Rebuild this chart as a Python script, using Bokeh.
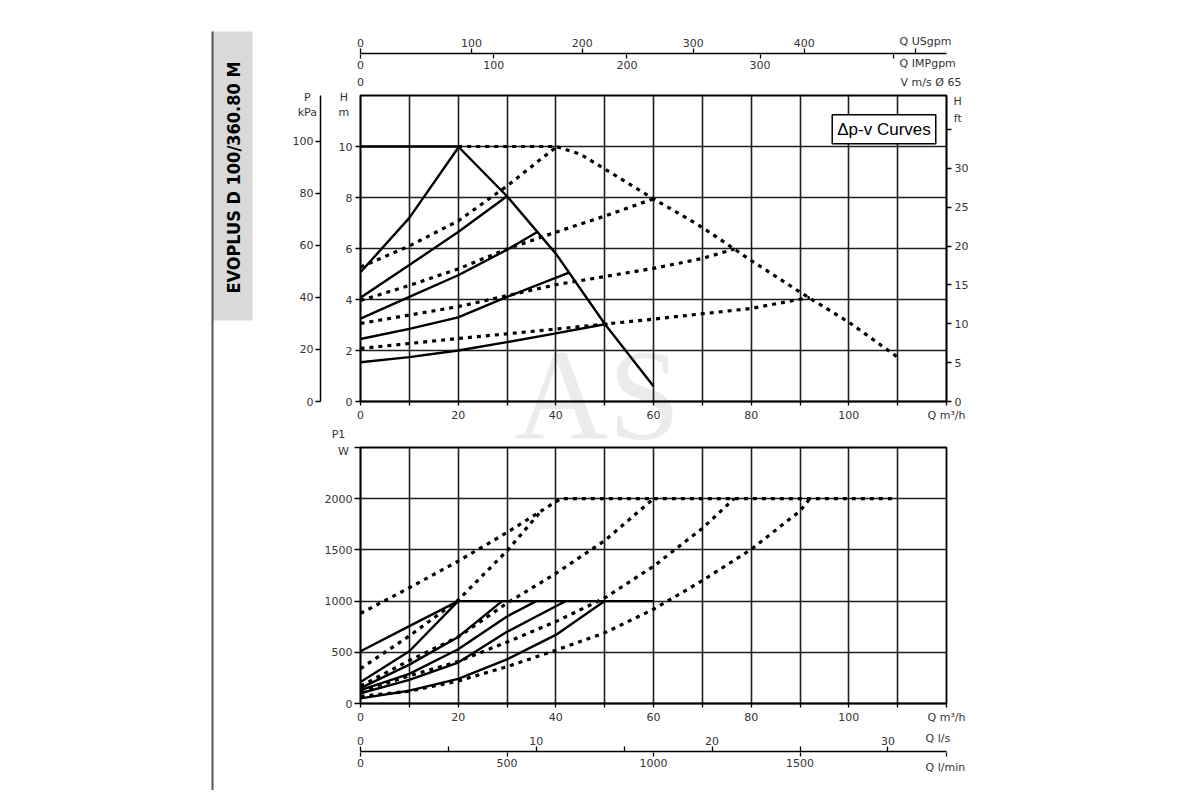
from math import pi

from bokeh.plotting import figure
from bokeh.models import Range1d, LinearAxis, FixedTicker, Grid, Label, BoxAnnotation
from bokeh.layouts import row, column
from bokeh.embed import file_html
from bokeh.resources import INLINE

# UNIT CONVERSIONS (from m3/h and m)
USGPM_PER_M3H = 4.402868
IMPGPM_PER_M3H = 3.666154
LS_PER_M3H = 1 / 3.6
LMIN_PER_M3H = 1000 / 60
KPA_PER_M = 9.80665
FT_PER_M = 3.28084

Q_MAX = 120
H_MAX = 12
P1_MAX = 2500

# TICKS
q_ticks = [0, 20, 40, 60, 80, 100, 120]
q_minor = [10, 30, 50, 70, 90, 110]
q_grid = [0, 10, 20, 30, 40, 50, 60, 70, 80, 90, 100, 110, 120]
h_ticks = [0, 2, 4, 6, 8, 10]
h_grid = [0, 2, 4, 6, 8, 10, 12]
kpa_ticks = [0, 20, 40, 60, 80, 100]
ft_ticks = [0, 5, 10, 15, 20, 25, 30, 35]
usgpm_ticks = [0, 100, 200, 300, 400, 500]
impgpm_ticks = [0, 100, 200, 300, 400]
p1_ticks = [0, 500, 1000, 1500, 2000, 2500]
ls_ticks = [0, 10, 20, 30]
ls_minor = [5, 15, 25]
lmin_ticks = [0, 500, 1000, 1500, 2000]

# HEAD CURVES  H [m] vs Q [m3/h]
head_solid_q = [
    [0, 20, 30, 40, 50, 60],
    [0, 10, 20],
    [0, 10, 20, 30],
    [0, 10, 20, 30, 36.2],
    [0, 10, 20, 30, 42.7],
    [0, 10, 20, 30, 40, 50.6],
]
head_solid_h = [
    [10, 10, 8.05, 5.8, 3.05, 0.6],
    [5.07, 7.2, 9.95],
    [4.07, 5.35, 6.65, 8.05],
    [3.25, 4.1, 4.95, 5.95, 6.65],
    [2.45, 2.85, 3.3, 4.1, 5.05],
    [1.54, 1.74, 2.0, 2.33, 2.67, 3.05],
]
head_dot_q = [
    [20, 40, 45, 50, 60, 70, 80, 90, 100, 110],
    [0, 10, 20, 30, 40],
    [0, 10, 20, 30, 40, 50, 60],
    [0, 20, 40, 60, 70, 76.6],
    [0, 20, 40, 60, 80, 92],
]
head_dot_h = [
    [10, 10, 9.7, 9.12, 7.95, 6.83, 5.53, 4.29, 3.11, 1.74],
    [5.27, 6.1, 7.08, 8.45, 9.97],
    [3.96, 4.55, 5.2, 5.98, 6.64, 7.27, 7.95],
    [3.06, 3.72, 4.58, 5.22, 5.61, 5.98],
    [2.08, 2.47, 2.84, 3.23, 3.65, 4.08],
]

# POWER CURVES  P1 [W] vs Q [m3/h]
power_solid_q = [
    [20, 60],
    [0, 10, 20],
    [0, 10, 20],
    [0, 10, 20, 29],
    [0, 10, 20, 30, 36],
    [0, 10, 20, 30, 40, 42],
    [0, 10, 20, 30, 40, 50],
]
power_solid_p = [
    [1000, 1000],
    [510, 755, 1000],
    [210, 510, 1000],
    [150, 380, 650, 1000],
    [130, 290, 530, 850, 1000],
    [100, 230, 400, 700, 950, 1000],
    [50, 125, 240, 430, 670, 1000],
]
power_dot_q = [
    [0, 10, 20, 30, 41, 110],
    [0, 10, 20, 30, 37],
    [0, 10, 20, 30, 40, 50, 60],
    [0, 10, 20, 30, 40, 50, 60, 70, 76.5],
    [0, 10, 20, 30, 40, 50, 60, 70, 80, 90, 92],
]
power_dot_p = [
    [880, 1130, 1390, 1670, 2000, 2000],
    [340, 660, 1010, 1490, 1880],
    [170, 420, 650, 980, 1270, 1590, 2000],
    [120, 270, 410, 600, 800, 1030, 1340, 1710, 2000],
    [70, 120, 220, 360, 520, 690, 920, 1200, 1505, 1880, 2000],
]

TICK_FONT = "DejaVu Sans"
TEXT_COLOR = "#333333"


def make_fig(frame_h, border_top, border_bottom, y_max):
    p = figure(frame_width=586, frame_height=frame_h,
               min_border_left=92, min_border_right=242,
               min_border_top=border_top, min_border_bottom=border_bottom,
               x_range=Range1d(0, Q_MAX), y_range=Range1d(0, y_max),
               x_axis_location=None, y_axis_location=None,
               toolbar_location=None, title=None, output_backend="svg")
    p.center = []
    return p


def add_axis(p, side, ticks, minor=(), range_name=None, hide=(), names=None,
             tick_out=5, standoff=2, line=True, tick_line=True):
    kw = {}
    if range_name:
        if side in ("above", "below"):
            kw["x_range_name"] = range_name
        else:
            kw["y_range_name"] = range_name
    ax = LinearAxis(ticker=FixedTicker(ticks=list(ticks), minor_ticks=list(minor)), **kw)
    overrides = {t: "" for t in hide}
    overrides.update(names or {})
    ax.major_label_overrides = overrides
    ax.major_tick_in = 0
    ax.major_tick_out = tick_out
    ax.minor_tick_in = 0
    ax.minor_tick_out = tick_out
    ax.major_label_standoff = standoff
    ax.major_label_text_font = TICK_FONT
    ax.major_label_text_font_size = "11px"
    ax.major_label_text_color = TEXT_COLOR
    ax.axis_line_color = "black" if line else None
    ax.axis_line_width = 1.5
    ax.major_tick_line_color = "black" if tick_line else None
    ax.minor_tick_line_color = "black" if tick_line else None
    ax.major_tick_line_width = 1.3
    ax.minor_tick_line_width = 1.3
    p.add_layout(ax, side)
    return ax


# labels go into a side panel so they are not clipped to the plot frame
def add_text(p, side, x, y, s, align="left", size="11px", font=TICK_FONT, color=TEXT_COLOR, **kw):
    lab = Label(x=x, y=y, text=s, text_align=align, text_baseline="middle",
                text_font=font, text_font_size=size, text_color=color, **kw)
    p.add_layout(lab, side)
    return lab


def add_grid(p, xs, ys):
    for dim, ticks in ((0, xs), (1, ys)):
        p.add_layout(Grid(dimension=dim, ticker=FixedTicker(ticks=ticks),
                          grid_line_color="#1e1e1e", grid_line_width=1.6))


# TOP STRIP: USgpm / IMPgpm / velocity scales
strip_top = make_fig(1, 53, 36, 1)
strip_top.outline_line_color = None
strip_top.extra_x_ranges = {
    "usgpm": Range1d(0, Q_MAX * USGPM_PER_M3H),
    "impgpm": Range1d(0, Q_MAX * IMPGPM_PER_M3H),
    "vel": Range1d(0, 10),
}
add_axis(strip_top, "above", usgpm_ticks, range_name="usgpm", hide=[500])
add_axis(strip_top, "below", impgpm_ticks, range_name="impgpm", hide=[400], tick_out=4, line=False)
add_axis(strip_top, "below", [0], range_name="vel", tick_out=0, standoff=6, line=False, tick_line=False)
add_text(strip_top, "right", 110.4, 13, "Q USgpm")
add_text(strip_top, "right", 110.4, -9, "Q IMPgpm")
add_text(strip_top, "right", 110.6, -28, "V m/s Ø 65")

# HEAD CHART
top = make_fig(306, 5, 44, H_MAX)
top.outline_line_color = "black"
top.outline_line_width = 1.8
top.extra_y_ranges = {"kpa": Range1d(0, H_MAX * KPA_PER_M), "ft": Range1d(0, H_MAX * FT_PER_M)}
add_grid(top, q_grid, h_grid)

add_axis(top, "left", h_ticks, standoff=3)
add_text(top, "left", -3.4, 11.92, "H", align="center")
add_text(top, "left", -10.9, 11.92, "P", align="center")
add_axis(top, "left", kpa_ticks, range_name="kpa")
add_text(top, "left", 122.3, 11.76, "H", align="center")
add_text(top, "left", -3.4, 11.33, "m", align="center")

add_axis(top, "right", ft_ticks, range_name="ft", hide=[35], standoff=3)
add_text(top, "right", -10.9, 11.33, "kPa", align="center")
add_text(top, "right", 122.3, 11.1, "ft", align="center")
add_text(top, "right", 48.5, 0.24, "AS", align="center", size="130px",
         font="Liberation Serif", color="black", text_alpha=0.08)

add_axis(top, "below", q_ticks, minor=q_minor, names={120: "Q m³/h"}, tick_out=4, standoff=3)
add_text(top, "below", -4.5, -1.29, "P1", align="center")

top.multi_line(xs=head_solid_q, ys=head_solid_h, line_color="black", line_width=2.4)
top.multi_line(xs=head_dot_q, ys=head_dot_h, line_color="black", line_width=3.2, line_dash="4 5")

top.add_layout(Label(x=107.2, y=10.68, text="Δp-v Curves", text_align="center",
                     text_baseline="middle", text_font="Liberation Sans", text_font_size="17px",
                     text_color="black", background_fill_color="white",
                     border_line_color="black", border_line_width=1.5, padding=5))

# POWER CHART
bottom = make_fig(256, 2, 20, P1_MAX)
bottom.outline_line_color = "black"
bottom.outline_line_width = 1.8
add_grid(bottom, q_grid, p1_ticks)
add_axis(bottom, "left", p1_ticks, hide=[2500], tick_out=6, standoff=2)
add_axis(bottom, "below", q_ticks, minor=q_minor, names={120: "Q m³/h"}, tick_out=4, standoff=3)
add_text(bottom, "right", -3.5, 2461, "W", align="center")

bottom.multi_line(xs=power_solid_q, ys=power_solid_p, line_color="black", line_width=2.4)
bottom.multi_line(xs=power_dot_q, ys=power_dot_p, line_color="black", line_width=3.2, line_dash="4 5")

# BOTTOM STRIP: l/s and l/min scales
strip_bot = make_fig(1, 25, 41, 1)
strip_bot.outline_line_color = None
strip_bot.extra_x_ranges = {
    "ls": Range1d(0, Q_MAX * LS_PER_M3H),
    "lmin": Range1d(0, Q_MAX * LMIN_PER_M3H),
}
add_axis(strip_bot, "above", ls_ticks, minor=ls_minor, range_name="ls")
add_axis(strip_bot, "below", lmin_ticks, range_name="lmin", hide=[2000], tick_out=4, line=False)
add_text(strip_bot, "right", 115.7, 14, "Q l/s")
add_text(strip_bot, "right", 115.7, -15, "Q l/min")

# LEFT TITLE BAND
side = figure(frame_width=268, frame_height=790, min_border=0,
              x_range=Range1d(0, 268), y_range=Range1d(0, 790),
              x_axis_location=None, y_axis_location=None,
              toolbar_location=None, title=None, output_backend="svg")
side.center = []
side.outline_line_color = None
side.add_layout(BoxAnnotation(left=212, right=252, top=759, bottom=470,
                              fill_color="#d9d9d9", fill_alpha=1, line_color=None))
side.add_layout(BoxAnnotation(left=211, right=213, top=759, bottom=0,
                              fill_color="#555555", fill_alpha=1, line_color=None))
side.add_layout(Label(x=233, y=613, text="EVOPLUS D 100/360.80 M", angle=pi / 2,
                      text_align="center", text_baseline="middle",
                      text_font="'DejaVu Sans Condensed', 'DejaVu Sans', sans-serif",
                      text_font_style="bold", text_font_size="18px", text_color="black"))

layout = row(side, column(strip_top, top, bottom, strip_bot))

open("out.html", "w").write(file_html(layout, INLINE, title="EVOPLUS D 100/360.80 M"))
